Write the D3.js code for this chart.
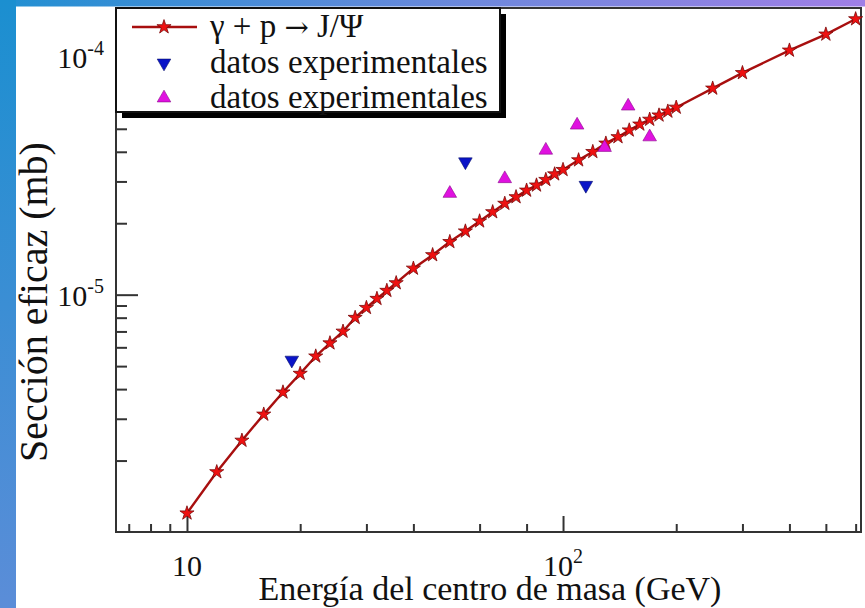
<!DOCTYPE html>
<html>
<head>
<meta charset="utf-8">
<script src="https://cdn.jsdelivr.net/npm/d3@7"></script>
<style>
  html, body { margin: 0; padding: 0; background: #fff; }
  svg { display: block; }
  text { font-family: "Liberation Serif", "Times New Roman", serif; fill: #111; }
</style>
</head>
<body>
<svg id="chart" width="865" height="608"></svg>
<script>
// Theoretical curve: centre-of-mass energy (GeV) and cross section (mb)
const energias = [10, 12, 14, 16, 18, 20, 22, 24, 26, 28, 30, 32, 34, 36,
                  40, 45, 50, 55, 60, 65, 70, 75, 80, 85, 90, 95, 100,
                  110, 120, 130, 140, 150, 160, 170, 180, 190, 200,
                  250, 300, 400, 500, 600];
const seccion  = [1.20e-6, 1.79e-6, 2.43e-6, 3.13e-6, 3.88e-6, 4.65e-6, 5.50e-6, 6.25e-6, 7.00e-6, 8.00e-6,
                  8.81e-6, 9.62e-6, 1.04e-5, 1.12e-5,
                  1.29e-5, 1.47e-5, 1.67e-5, 1.85e-5, 2.04e-5, 2.23e-5, 2.42e-5, 2.58e-5, 2.75e-5, 2.89e-5,
                  3.05e-5, 3.22e-5, 3.36e-5,
                  3.69e-5, 4.00e-5, 4.34e-5, 4.62e-5, 4.93e-5, 5.22e-5, 5.47e-5, 5.70e-5, 5.92e-5, 6.15e-5,
                  7.40e-5, 8.60e-5, 1.07e-4, 1.25e-4, 1.45e-4];

// Experimental points, first set (down triangles)
const expA_E = [19, 55, 115];
const expA_S = [5.3e-6, 3.63e-5, 2.89e-5];

// Experimental points, second set (up triangles)
const expB_E = [50, 70, 90, 109, 129, 149, 170];
const expB_S = [2.67e-5, 3.08e-5, 4.06e-5, 5.18e-5, 4.17e-5, 6.23e-5, 4.62e-5];

// Axis ranges and ticks
const xDomain = [6.475, 620];
const yDomain = [1e-6, 1.614e-4];
const xMajor = [10, 100];
const xMajorExp = ["", "2"];
const xMinor = [7, 8, 9, 20, 30, 40, 60, 80, 200, 300, 400, 500, 600];
const yMajor = [1e-5, 1e-4];
const yMajorExp = ["-5", "-4"];
const yMinor = [2e-6, 3e-6, 4e-6, 5e-6, 6e-6, 7e-6, 8e-6, 9e-6,
                2e-5, 3e-5, 4e-5, 5e-5, 6e-5, 7e-5, 8e-5, 9e-5];

const W = 865, H = 608;
const plot = { left: 116, right: 861, top: 8, bottom: 532 };

const svg = d3.select("#chart");
const defs = svg.append("defs");

// slide background strips
const gV = defs.append("linearGradient").attr("id", "gV").attr("x1", 0).attr("y1", 0).attr("x2", 0).attr("y2", 1);
gV.append("stop").attr("offset", "0%").attr("stop-color", "#1b8fd0");
gV.append("stop").attr("offset", "100%").attr("stop-color", "#5b8dd8");
const gH = defs.append("linearGradient").attr("id", "gH").attr("x1", 0).attr("y1", 0).attr("x2", 1).attr("y2", 0);
gH.append("stop").attr("offset", "0%").attr("stop-color", "#2190d2");
gH.append("stop").attr("offset", "55%").attr("stop-color", "#6e88dc");
gH.append("stop").attr("offset", "100%").attr("stop-color", "#a07fe6");

svg.append("rect").attr("width", W).attr("height", H).attr("fill", "#fff");
svg.append("rect").attr("x", 0).attr("y", 0).attr("width", W).attr("height", 6.5).attr("fill", "url(#gH)");
svg.append("rect").attr("x", 0).attr("y", 0).attr("width", 16).attr("height", H).attr("fill", "url(#gV)");

const x = d3.scaleLog().domain(xDomain).range([plot.left, plot.right]);
const y = d3.scaleLog().domain(yDomain).range([plot.bottom, plot.top]);

const axisColor = "#333";

// bottom axis ticks (pointing inward)
const gx = svg.append("g").attr("transform", `translate(0,${plot.bottom})`);
gx.call(d3.axisBottom(x).tickValues(xMinor).tickSize(-8).tickFormat(""));
gx.call(g => g.select(".domain").remove());
const gx2 = svg.append("g").attr("transform", `translate(0,${plot.bottom})`);
gx2.call(d3.axisBottom(x).tickValues(xMajor).tickSize(-16).tickFormat(""));
gx2.call(g => g.select(".domain").remove());

// left axis ticks
const gy = svg.append("g").attr("transform", `translate(${plot.left},0)`);
gy.call(d3.axisLeft(y).tickValues(yMinor).tickSize(-11).tickFormat(""));
gy.call(g => g.select(".domain").remove());
const gy2 = svg.append("g").attr("transform", `translate(${plot.left},0)`);
gy2.call(d3.axisLeft(y).tickValues(yMajor).tickSize(-22).tickFormat(""));
gy2.call(g => g.select(".domain").remove());
svg.selectAll("g.tick line").attr("stroke", axisColor).attr("stroke-width", 2);

// frame
svg.append("rect")
  .attr("x", plot.left).attr("y", plot.top)
  .attr("width", plot.right - plot.left).attr("height", plot.bottom - plot.top)
  .attr("fill", "none").attr("stroke", axisColor).attr("stroke-width", 2);

// x tick labels
xMajor.forEach((v, i) => {
  const t = svg.append("text").attr("x", x(v)).attr("y", 576)
    .attr("text-anchor", "middle").attr("font-size", 30);
  t.append("tspan").text("10");
  if (xMajorExp[i]) t.append("tspan").attr("dy", -13).attr("font-size", 20).text(xMajorExp[i]);
});

// y tick labels
yMajor.forEach((v, i) => {
  const t = svg.append("text").attr("x", 104).attr("y", y(v) + 11)
    .attr("text-anchor", "end").attr("font-size", 30);
  t.append("tspan").text("10");
  t.append("tspan").attr("dy", -13).attr("font-size", 20).text(yMajorExp[i]);
});

// axis titles
svg.append("text").attr("x", 490).attr("y", 600)
  .attr("text-anchor", "middle").attr("font-size", 34)
  .text("Energía del centro de masa (GeV)");
svg.append("text")
  .attr("transform", `translate(47,302) rotate(-90)`)
  .attr("text-anchor", "middle").attr("font-size", 40)
  .text("Sección eficaz (mb)");

const lineColor = "#a80f0f";
const starFill = "#ee1111";
const star = d3.symbol().type(d3.symbolStar).size(62);
const tri = d3.symbol().type(d3.symbolTriangle).size(80);

const curve = energias.map((e, i) => [e, seccion[i]]);
const plotG = svg.append("g");

plotG.append("path")
  .datum(curve)
  .attr("fill", "none").attr("stroke", lineColor).attr("stroke-width", 2.4)
  .attr("d", d3.line().x(d => x(d[0])).y(d => y(d[1])));

plotG.selectAll("path.star").data(curve).join("path")
  .attr("class", "star")
  .attr("transform", d => `translate(${x(d[0])},${y(d[1])})`)
  .attr("d", star)
  .attr("fill", starFill).attr("stroke", "#7a0a0a").attr("stroke-width", 0.8);

plotG.selectAll("path.tA").data(expA_E.map((e, i) => [e, expA_S[i]])).join("path")
  .attr("class", "tA")
  .attr("transform", d => `translate(${x(d[0])},${y(d[1])}) rotate(180)`)
  .attr("d", tri)
  .attr("fill", "#0a14c8").attr("stroke", "#08106a").attr("stroke-width", 0.6);

plotG.selectAll("path.tB").data(expB_E.map((e, i) => [e, expB_S[i]])).join("path")
  .attr("class", "tB")
  .attr("transform", d => `translate(${x(d[0])},${y(d[1])})`)
  .attr("d", tri)
  .attr("fill", "#e011e0").attr("stroke", "#8a0a8a").attr("stroke-width", 0.6);

// legend with drop shadow
const lg = svg.append("g");
const box = { x: 116, y: 8, w: 384, h: 104 };
lg.append("rect").attr("x", box.x + 6).attr("y", box.y + 6)
  .attr("width", box.w).attr("height", box.h).attr("fill", "#000");
lg.append("rect").attr("x", box.x).attr("y", box.y)
  .attr("width", box.w).attr("height", box.h)
  .attr("fill", "#fff").attr("stroke", "#111").attr("stroke-width", 2);

const rows = [27, 63, 98];
lg.append("line").attr("x1", 132).attr("x2", 197).attr("y1", rows[0]).attr("y2", rows[0])
  .attr("stroke", lineColor).attr("stroke-width", 2.4);
lg.append("path").attr("transform", `translate(164,${rows[0]})`).attr("d", star)
  .attr("fill", starFill).attr("stroke", "#7a0a0a").attr("stroke-width", 0.8);
lg.append("path").attr("transform", `translate(164,${rows[1]}) rotate(180)`).attr("d", tri)
  .attr("fill", "#0a14c8").attr("stroke", "#08106a").attr("stroke-width", 0.6);
lg.append("path").attr("transform", `translate(164,${rows[2]})`).attr("d", tri)
  .attr("fill", "#e011e0").attr("stroke", "#8a0a8a").attr("stroke-width", 0.6);

// first entry: reaction label with a serif arrow
const t0 = lg.append("text").attr("x", 210).attr("y", rows[0] + 10).attr("font-size", 33);
t0.append("tspan").text("\u03B3 + p ");
t0.append("tspan").attr("font-family", "DejaVu Serif").attr("font-size", 29).text("\u2192");
t0.append("tspan").text(" J/\u03A8");

["datos experimentales", "datos experimentales"].forEach((s, i) => {
  lg.append("text").attr("x", 210).attr("y", rows[i + 1] + 10)
    .attr("font-size", 33).text(s);
});
</script>
</body>
</html>
